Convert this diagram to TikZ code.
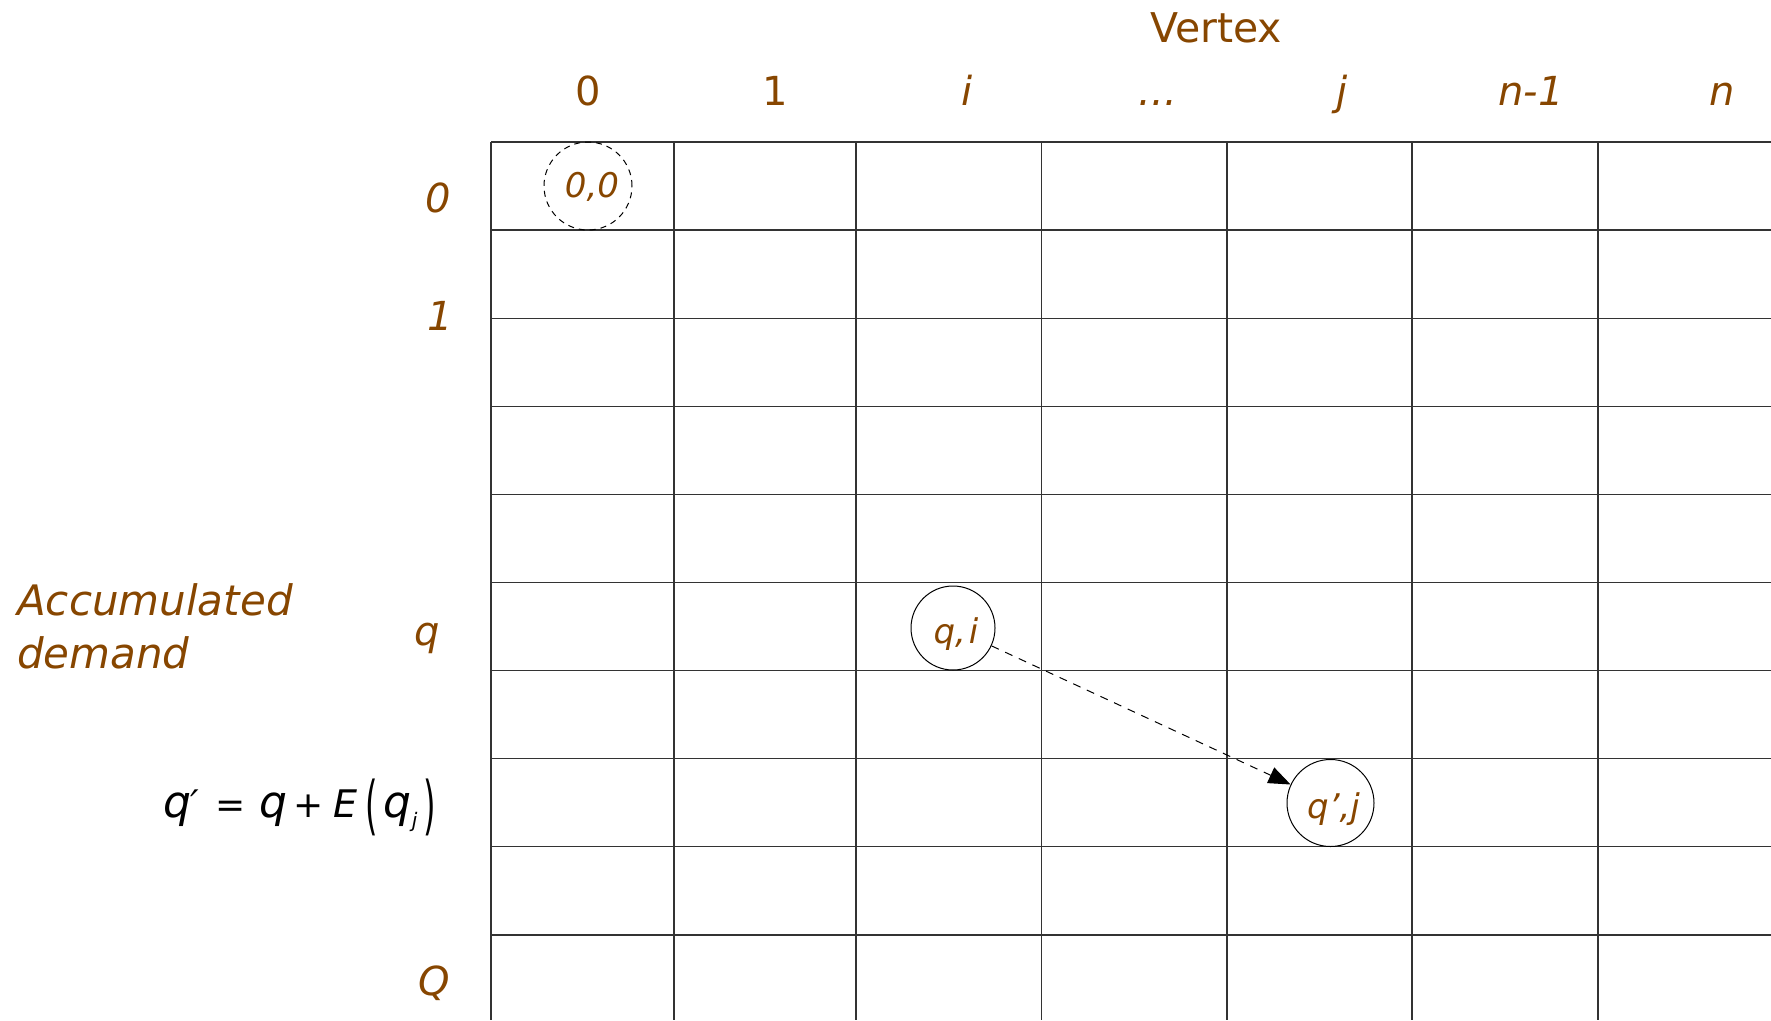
\documentclass[tikz,border=0pt]{standalone}
\usepackage{fontspec}
\usepackage{graphicx}
\setmainfont{DejaVu Sans}
\usetikzlibrary{arrows.meta}
\definecolor{brn}{RGB}{135,70,0}
\newcommand\myfs[1]{\fontsize{#1}{#1}\selectfont}
\begin{document}
\begin{tikzpicture}[x=1pt,y=-1pt,
  gridline/.style={line width=1.3pt, black!80},
  cellcirc/.style={circle, draw=black, line width=1pt, minimum size=88pt, inner sep=0pt},
  lbl/.style={text=brn, inner sep=0pt, anchor=base},
  hdr/.style={lbl, font=\myfs{40}},
  rowlbl/.style={lbl, font=\myfs{40}\itshape},
  intext/.style={lbl, font=\myfs{34}\itshape}]
\useasboundingbox (0,0) rectangle (1771,1020);
% grid
\foreach \x in {491,674,856,1041.5,1227,1412,1598}
  \draw[gridline] (\x,142) -- (\x,1020);
\foreach \k in {0,...,9}
  \draw[gridline] (491,142+88.1*\k) -- (1771,142+88.1*\k);
% headers
\node[lbl, font=\myfs{41}] (vertex) at (1216,42) {Vertex};
\node[hdr] (c0) at (588,105) {0};
\node[hdr] (c1) at (775,105) {1};
\node[hdr, font=\myfs{40}\itshape] (ci) at (967,105) {i};
\node[hdr, font=\myfs{40}\itshape] (cdots) at (1158,105) {...};
\node[hdr, font=\myfs{40}\itshape] (cj) at (1342,105) {j};
\node[hdr, font=\myfs{40}\itshape] (cn1) at (1531,105) {n-1};
\node[hdr, font=\myfs{40}\itshape] (cn) at (1722,105) {n};
% row labels
\node[rowlbl] (r0) at (438,212) {0};
\node[rowlbl] (r1) at (440,330) {1};
\node[rowlbl] (rq) at (427,645) {q};
\node[rowlbl] (rQ) at (434,995) {Q};
\node[lbl, anchor=base west, font=\myfs{42}\itshape] (acc) at (17,615) {Accumulated};
\node[lbl, anchor=base west, font=\myfs{42}\itshape] (dem) at (17,668) {demand};
% formula
\node[anchor=base east, inner sep=0pt, text=black] (formula) at (436,817) {%
 {\myfs{44}\itshape q}\kern-1pt{\myfs{38}\itshape \char"2032}\hspace{16pt}%
 {\myfs{36}=}\hspace{14pt}{\myfs{44}\itshape q}\hspace{6pt}{\myfs{36}+}\hspace{10pt}%
 {\myfs{38}\itshape E}\hspace{8pt}\raisebox{-10pt}{\scalebox{1}[2]{\myfs{32}(}}\hspace{6pt}%
 {\myfs{44}\itshape q}\raisebox{-10pt}{\myfs{20}\itshape j}\hspace{6pt}\raisebox{-10pt}{\scalebox{1}[2]{\myfs{32})}}};
% state circles
\node[cellcirc, dashed, dash pattern=on 6pt off 5pt] (c00) at (588,186) {};
\node[cellcirc, minimum size=84pt] (qi) at (953,628) {};
\node[cellcirc, minimum size=87pt] (qj) at (1330.5,803) {};
\node[intext] (t00) at (592,197) {0,0};
\node[intext] (tqi) at (956,643) {q,\kern3pt i};
\node[intext] (tqj) at (1333.5,818) {q\char"27,j};
% transition
\draw[line width=1pt, dash pattern=on 8pt off 7pt, -{Triangle[length=22pt,width=17pt]}] (qi) -- (qj);
\end{tikzpicture}
\end{document}
